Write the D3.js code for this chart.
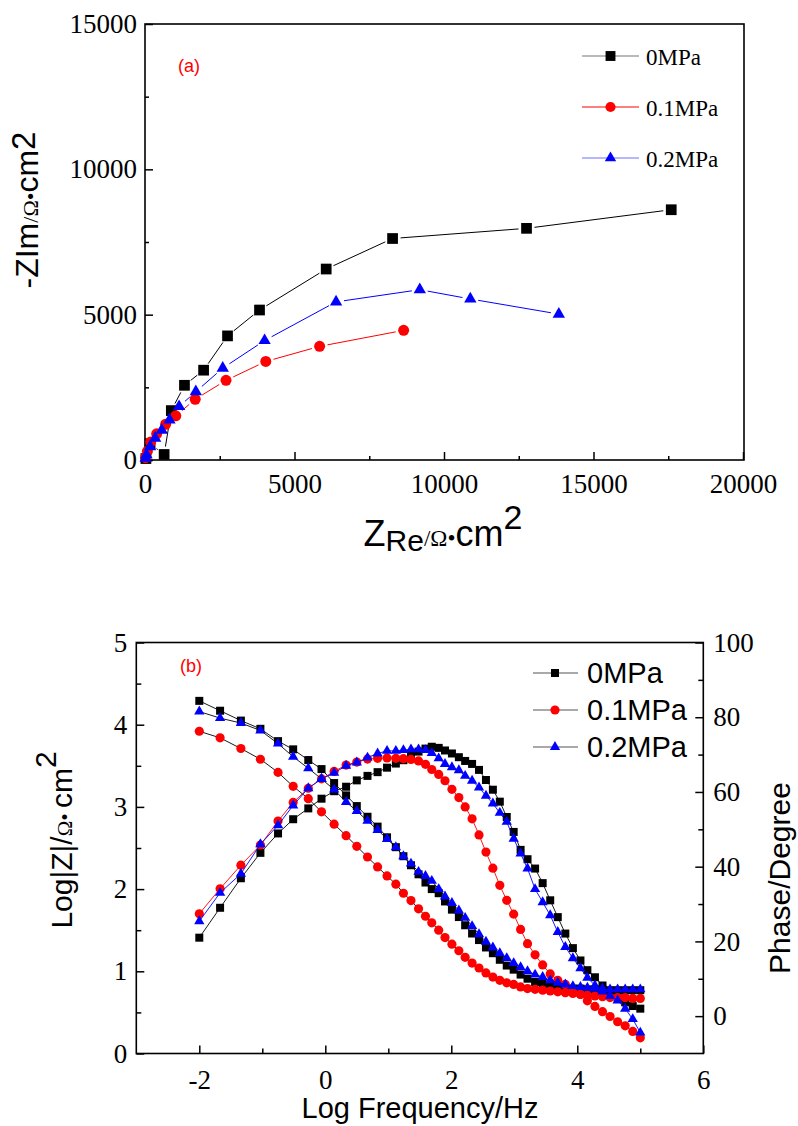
<!DOCTYPE html>
<html lang="en">
  <head>
    <meta charset="utf-8" />
    <title>EIS Nyquist and Bode plots</title>
    <script type="text/javascript" src="https://d3js.org/d3.v7.min.js"></script>
    <style>
      body { margin: 0; background: #fff; }
      svg { display: block; }
    </style>
  </head>
  <body>
    <div id="graph"></div>

    <script type="text/javascript">
      /***************
       * data
       ***************/

      const seriesNames = ["0MPa", "0.1MPa", "0.2MPa"];

      // (a) Nyquist points: [Z_Re, -Z_Im] in ohm*cm2
      const nyq0 = [[30, 50], [170, 560], [640, 190], [880, 1700], [1320, 2570], [1960, 3090],
        [2760, 4270], [3830, 5160], [6060, 6570], [8280, 7620], [12760, 7970], [17600, 8610]];
      const nyq01 = [[20, 80], [80, 300], [190, 620], [390, 900], [690, 1230], [1030, 1520],
        [1680, 2090], [2710, 2740], [4040, 3390], [5840, 3910], [8650, 4460]];
      const nyq02 = [[20, 60], [50, 180], [170, 460], [340, 750], [560, 1030], [820, 1380],
        [1140, 1840], [1700, 2350], [2600, 3160], [4000, 4110], [6390, 5440], [9190, 5860],
        [10880, 5540], [13840, 5020]];

      // (b) Bode: log frequency shared by all series
      const logFreq = [-2.00, -1.67, -1.34, -1.03, -0.75, -0.51, -0.27, -0.06, 0.14, 0.33,
        0.50, 0.67, 0.83, 0.98, 1.12, 1.24, 1.36, 1.48, 1.59, 1.69,
        1.80, 1.90, 2.01, 2.12, 2.22, 2.33, 2.44, 2.55, 2.66, 2.77,
        2.88, 2.99, 3.10, 3.21, 3.33, 3.45, 3.57, 3.69, 3.81, 3.93,
        4.05, 4.16, 4.28, 4.40, 4.52, 4.64, 4.76, 4.88, 5.00];

      // log|Z|
      const logZ0 = [4.29, 4.17, 4.05, 3.95, 3.80, 3.70, 3.57, 3.46, 3.29, 3.14,
        3.01, 2.88, 2.76, 2.63, 2.51, 2.40, 2.29, 2.18, 2.08, 2.00,
        1.95, 1.85, 1.75, 1.66, 1.56, 1.46, 1.38, 1.29, 1.22, 1.14,
        1.07, 1.02, 0.96, 0.91, 0.87, 0.85, 0.82, 0.81, 0.80, 0.79,
        0.79, 0.78, 0.78, 0.78, 0.77, 0.77, 0.77, 0.77, 0.77];
      const logZ01 = [3.92, 3.84, 3.71, 3.58, 3.42, 3.25, 3.10, 2.94, 2.79, 2.65,
        2.52, 2.39, 2.27, 2.16, 2.06, 1.95, 1.86, 1.76, 1.67, 1.59,
        1.50, 1.41, 1.33, 1.25, 1.17, 1.10, 1.04, 0.98, 0.93, 0.89,
        0.86, 0.84, 0.81, 0.79, 0.78, 0.77, 0.76, 0.75, 0.74, 0.73,
        0.72, 0.71, 0.70, 0.69, 0.68, 0.68, 0.68, 0.67, 0.67];
      const logZ02 = [4.16, 4.08, 4.02, 3.93, 3.77, 3.61, 3.47, 3.34, 3.21, 3.06,
        2.95, 2.83, 2.72, 2.61, 2.51, 2.40, 2.31, 2.21, 2.16, 2.10,
        2.00, 1.91, 1.83, 1.74, 1.65, 1.55, 1.45, 1.36, 1.29, 1.22,
        1.16, 1.10, 1.05, 1.00, 0.96, 0.93, 0.89, 0.86, 0.84, 0.82,
        0.81, 0.80, 0.79, 0.79, 0.78, 0.78, 0.78, 0.78, 0.78];

      // phase angle, degree
      const phase0 = [21.0, 29.0, 36.9, 43.7, 48.9, 52.7, 55.6, 58.2, 60.2, 61.4,
        63.1, 64.3, 65.3, 66.5, 67.6, 68.5, 69.8, 70.8, 71.6, 72.1,
        71.8, 71.1, 70.3, 69.3, 68.3, 67.5, 65.9, 63.2, 60.6, 57.4,
        53.3, 49.3, 44.5, 42.0, 39.5, 35.6, 31.0, 26.5, 22.1, 18.2,
        14.9, 12.3, 10.4, 8.2, 6.4, 5.0, 3.7, 2.7, 2.0];
      const phase01 = [27.4, 34.1, 40.4, 45.8, 52.2, 57.2, 61.0, 63.5, 65.5, 67.2,
        68.0, 68.8, 69.0, 69.1, 69.0, 68.9, 68.7, 68.3, 67.4, 66.0,
        64.7, 63.0, 60.7, 58.5, 56.0, 52.8, 48.5, 43.9, 39.6, 35.0,
        31.0, 27.3, 23.2, 19.4, 16.4, 13.7, 11.3, 9.6, 8.5, 7.1,
        5.8, 4.1, 2.6, 1.2, -0.1, -1.5, -2.6, -4.1, -5.8];
      const phase02 = [25.4, 33.0, 38.1, 46.0, 51.1, 56.4, 61.0, 63.5, 65.1, 67.0,
        67.9, 69.2, 70.3, 71.0, 71.0, 71.2, 71.4, 71.4, 71.2, 70.4,
        69.0, 67.5, 66.6, 65.8, 64.3, 63.0, 61.2, 59.0, 56.9, 54.4,
        52.0, 47.5, 43.5, 39.5, 34.0, 30.5, 27.0, 22.5, 18.5, 15.5,
        12.8, 10.3, 8.2, 6.6, 5.4, 4.2, 2.0, -0.8, -4.4];

      const xTicksA = [0, 5000, 10000, 15000, 20000];
      const yTicksA = [0, 5000, 10000, 15000];
      const xTicksB = [-2, 0, 2, 4, 6];
      const yTicksB = [0, 1, 2, 3, 4, 5];
      const pTicksB = [0, 20, 40, 60, 80, 100];

      /***************************
       * create svg
       **************************/

      const width = 798;
      const height = 1126;

      const svg = d3
        .select("div#graph")
        .append("svg")
        .attr("width", width)
        .attr("height", height);

      svg.append("rect").attr("width", width).attr("height", height).attr("fill", "#fff");

      const serif = "'Liberation Serif','Times New Roman',serif";
      const sans = "'Liberation Sans',Arial,sans-serif";
      const colors = ["#000000", "#ff0000", "#0000ff"];
      const legendLineA = ["#777777", "#ff0000", "#7070ff"];
      const shapes = [d3.symbolSquare, d3.symbolCircle, d3.symbolTriangle];
      const plain = (d) => String(d); // keep ASCII hyphen for negatives

      function styleAxis(g) {
        g.attr("font-family", serif).attr("font-size", 27);
        g.select(".domain").remove();
        g.selectAll("line").attr("stroke", "#000").attr("stroke-width", 1.5);
        g.selectAll("text")
          .attr("font-family", serif)
          .attr("font-size", 27)
          .attr("fill", "#000");
      }

      /********************
       * (a) Nyquist
       ***********************/

      const xA = d3.scaleLinear().domain([0, 20000]).range([145, 743]);
      const yA = d3.scaleLinear().domain([0, 15000]).range([460, 24]);

      svg.append("g")
        .attr("transform", "translate(0,460)")
        .call(d3.axisBottom(xA).tickValues(xTicksA).tickSize(-8).tickPadding(14).tickFormat(plain))
        .call(styleAxis);
      svg.append("g")
        .attr("transform", "translate(0,460)")
        .call(d3.axisBottom(xA).tickValues([2500, 7500, 12500, 17500]).tickSize(-4).tickFormat(""))
        .call(styleAxis);
      svg.append("g")
        .attr("transform", "translate(145,0)")
        .call(d3.axisLeft(yA).tickValues(yTicksA).tickSize(-8).tickPadding(8).tickFormat(plain))
        .call(styleAxis);
      svg.append("g")
        .attr("transform", "translate(145,0)")
        .call(d3.axisLeft(yA).tickValues([2500, 7500, 12500]).tickSize(-4).tickFormat(""))
        .call(styleAxis);

      svg.append("rect")
        .attr("x", xA(0)).attr("y", yA(15000))
        .attr("width", xA(20000) - xA(0) + 1).attr("height", yA(0) - yA(15000))
        .attr("fill", "none").attr("stroke", "#000").attr("stroke-width", 1.6);

      // Origin-style connecting lines: stop short of each marker
      function gapLines(g, pts, color, gap) {
        for (let i = 1; i < pts.length; i++) {
          const [x1, y1] = pts[i - 1];
          const [x2, y2] = pts[i];
          const L = Math.hypot(x2 - x1, y2 - y1);
          if (L <= 2 * gap) continue;
          const ux = (x2 - x1) / L, uy = (y2 - y1) / L;
          g.append("line")
            .attr("x1", x1 + ux * gap).attr("y1", y1 + uy * gap)
            .attr("x2", x2 - ux * gap).attr("y2", y2 - uy * gap)
            .attr("stroke", color).attr("stroke-width", 1);
        }
      }

      const sizesA = [115, 95, 66];
      [nyq0, nyq01, nyq02].forEach((ser, k) => {
        const g = svg.append("g");
        const pts = ser.map((d) => [xA(d[0]), yA(d[1])]);
        gapLines(g, pts, colors[k], 8);
        g.selectAll("path")
          .data(pts)
          .enter()
          .append("path")
          .attr("transform", (d) => "translate(" + d[0] + "," + d[1] + ")")
          .attr("d", d3.symbol().type(shapes[k]).size(sizesA[k]))
          .attr("fill", colors[k]);
      });

      // legend (a)
      seriesNames.forEach((name, k) => {
        const ly = 56 + k * 51;
        svg.append("line").attr("x1", 582).attr("x2", 639).attr("y1", ly).attr("y2", ly)
          .attr("stroke", legendLineA[k]).attr("stroke-width", 1.2);
        svg.append("path")
          .attr("transform", "translate(610.5," + ly + ")")
          .attr("d", d3.symbol().type(shapes[k]).size(sizesA[k] * 0.85))
          .attr("fill", colors[k]);
        svg.append("text").attr("x", 646).attr("y", ly + 9)
          .attr("font-family", serif).attr("font-size", 23).text(name);
      });

      svg.append("text").attr("x", 178).attr("y", 72)
        .attr("font-family", sans).attr("font-size", 18).attr("fill", "#ff0000").text("(a)");

      // axis titles (a)
      const yTitleA = svg.append("text")
        .attr("transform", "translate(38,210) rotate(-90)")
        .attr("text-anchor", "middle")
        .attr("font-family", sans).attr("font-size", 32);
      yTitleA.append("tspan").text("-ZIm");
      yTitleA.append("tspan").attr("font-family", serif).attr("font-size", 22).text("/Ω•");
      yTitleA.append("tspan").text("cm");
      yTitleA.append("tspan").attr("dy", -3).attr("font-size", 33).text("2");

      const xTitleA = svg.append("text")
        .attr("x", 443).attr("y", 546)
        .attr("text-anchor", "middle")
        .attr("font-family", sans).attr("font-size", 36);
      xTitleA.append("tspan").text("Z");
      xTitleA.append("tspan").attr("dy", 5).attr("font-size", 30).text("Re");
      xTitleA.append("tspan").attr("dy", -5).attr("font-family", serif).attr("font-size", 23).text("/Ω•");
      xTitleA.append("tspan").text("cm");
      xTitleA.append("tspan").attr("dy", -17).attr("font-size", 34).text("2");

      /********************
       * (b) Bode
       ***********************/

      const xB = d3.scaleLinear().domain([-3, 6]).range([136.3, 703.3]);
      const yB = d3.scaleLinear().domain([0, 5]).range([1053.5, 642.5]);
      const pB = d3.scaleLinear().domain([-10, 100]).range([1053.5, 642.5]);

      svg.append("g")
        .attr("transform", "translate(0,1053.5)")
        .call(d3.axisBottom(xB).tickValues(xTicksB).tickSize(-8).tickPadding(16).tickFormat(plain))
        .call(styleAxis);
      svg.append("g")
        .attr("transform", "translate(0,1053.5)")
        .call(d3.axisBottom(xB).tickValues([-1, 1, 3, 5]).tickSize(-5).tickFormat(""))
        .call(styleAxis);
      svg.append("g")
        .attr("transform", "translate(136.3,0)")
        .call(d3.axisLeft(yB).tickValues(yTicksB).tickSize(-8).tickPadding(9).tickFormat(plain))
        .call(styleAxis);
      svg.append("g")
        .attr("transform", "translate(136.3,0)")
        .call(d3.axisLeft(yB).tickValues([0.5, 1.5, 2.5, 3.5, 4.5]).tickSize(-5).tickFormat(""))
        .call(styleAxis);
      svg.append("g")
        .attr("transform", "translate(703.3,0)")
        .call(d3.axisRight(pB).tickValues(pTicksB).tickSize(-8).tickPadding(10).tickFormat(plain))
        .call(styleAxis);
      svg.append("g")
        .attr("transform", "translate(703.3,0)")
        .call(d3.axisRight(pB).tickValues([10, 30, 50, 70, 90]).tickSize(-5).tickFormat(""))
        .call(styleAxis);

      svg.append("rect")
        .attr("x", xB(-3)).attr("y", yB(5))
        .attr("width", xB(6) - xB(-3)).attr("height", yB(0) - yB(5))
        .attr("fill", "none").attr("stroke", "#000").attr("stroke-width", 1.6);

      const sizesB = [64, 66, 46];
      const zSets = [logZ0, logZ01, logZ02];
      const pSets = [phase0, phase01, phase02];

      const lineZ = d3.line().x((d, i) => xB(logFreq[i])).y((d) => yB(d));
      const lineP = d3.line().x((d, i) => xB(logFreq[i])).y((d) => pB(d));

      [0, 1, 2].forEach((k) => {
        const g = svg.append("g");
        g.append("path").attr("d", lineZ(zSets[k]))
          .attr("fill", "none").attr("stroke", "#000").attr("stroke-width", 0.9);
        g.append("path").attr("d", lineP(pSets[k]))
          .attr("fill", "none").attr("stroke", colors[k]).attr("stroke-width", 0.9);
        const sym = d3.symbol().type(shapes[k]).size(sizesB[k]);
        g.selectAll("path.z")
          .data(zSets[k])
          .enter()
          .append("path")
          .attr("class", "z")
          .attr("transform", (d, i) => "translate(" + xB(logFreq[i]) + "," + yB(d) + ")")
          .attr("d", sym)
          .attr("fill", colors[k]);
        g.selectAll("path.p")
          .data(pSets[k])
          .enter()
          .append("path")
          .attr("class", "p")
          .attr("transform", (d, i) => "translate(" + xB(logFreq[i]) + "," + pB(d) + ")")
          .attr("d", sym)
          .attr("fill", colors[k]);
      });

      // legend (b)
      seriesNames.forEach((name, k) => {
        const ly = 673 + k * 37;
        svg.append("line").attr("x1", 533).attr("x2", 578).attr("y1", ly).attr("y2", ly)
          .attr("stroke", "#555").attr("stroke-width", 1.2);
        svg.append("path")
          .attr("transform", "translate(555," + ly + ")")
          .attr("d", d3.symbol().type(shapes[k]).size(sizesB[k]))
          .attr("fill", colors[k]);
        svg.append("text").attr("x", 587).attr("y", ly + 10)
          .attr("font-family", sans).attr("font-size", 29).text(name);
      });

      svg.append("text").attr("x", 180).attr("y", 672)
        .attr("font-family", sans).attr("font-size", 18).attr("fill", "#ff0000").text("(b)");

      const yTitleB = svg.append("text")
        .attr("transform", "translate(72,840) rotate(-90)")
        .attr("text-anchor", "middle")
        .attr("font-family", sans).attr("font-size", 30);
      yTitleB.append("tspan").text("Log|Z|/");
      yTitleB.append("tspan").attr("font-family", serif).attr("font-size", 21).text("Ω• ");
      yTitleB.append("tspan").text("cm");
      yTitleB.append("tspan").attr("dy", -16).attr("font-size", 30).text("2");

      svg.append("text")
        .attr("transform", "translate(790,878) rotate(-90)")
        .attr("text-anchor", "middle")
        .attr("font-family", sans).attr("font-size", 30)
        .text("Phase/Degree");

      svg.append("text")
        .attr("x", 420).attr("y", 1118)
        .attr("text-anchor", "middle")
        .attr("font-family", sans).attr("font-size", 29)
        .text("Log Frequency/Hz");
    </script>
  </body>
</html>
